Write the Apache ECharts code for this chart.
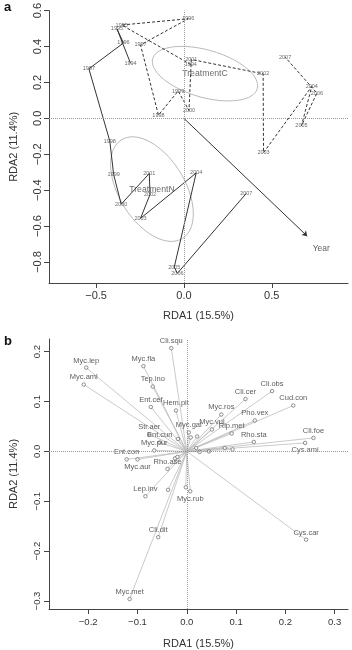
<!DOCTYPE html>
<html>
<head>
<meta charset="utf-8">
<script src="https://cdn.jsdelivr.net/npm/echarts@6/dist/echarts.min.js"></script>
<style>html,body{margin:0;padding:0;background:#fff}#main{width:352px;height:650px}</style>
</head>
<body>
<div id="main"></div>
<script>
// panel a: site scores per year, two treatments
var years = [1994, 1995, 1996, 1997, 1998, 1999, 2000, 2001, 2002, 2003, 2004, 2005, 2006, 2007];
var nX = [-0.304, -0.381, -0.344, -0.541, -0.422, -0.400, -0.357, -0.197, -0.193, -0.247, 0.070, -0.055, -0.037, 0.355];
var nY = [0.307, 0.498, 0.420, 0.276, -0.126, -0.313, -0.478, -0.307, -0.424, -0.557, -0.304, -0.828, -0.863, -0.418];
var cX = [0.039, -0.354, 0.025, -0.247, -0.145, -0.033, 0.029, 0.042, 0.451, 0.453, 0.728, 0.669, 0.757, 0.576];
var cY = [0.300, 0.520, 0.555, 0.409, 0.018, 0.152, 0.044, 0.328, 0.248, -0.191, 0.178, -0.041, 0.141, 0.341];
var groups = ['TreatmentC', 'TreatmentN'];
var groupX = [0.120, -0.182];
var groupY = [0.249, -0.394];
var ellA = [0.309, 0.325];
var ellB = [0.132, 0.186];
var ellRot = [-15.6, -57.2];
var yearArrow = [0.702, -0.656];

// panel b: species scores
var species = ['Cli.squ', 'Myc.lep', 'Myc.fla', 'Myc.aml', 'Tep.ino', 'Ent.cef', 'Hem.pit', 'Cli.cer', 'Cli.obs', 'Cud.con',
  'Myc.ros', 'Pho.vex', 'Myc.vul', 'Rip.met', 'Myc.gal', 'Rho.sta', 'Cli.foe', 'Cys.ami', 'Str.aer', 'Ent.cun',
  'Myc.pur', 'Ent.con', 'Myc.aur', 'Rho.ase', 'Lep.inv', 'Myc.rub', 'Cli.dit', 'Myc.met', 'Cys.car',
  '', '', '', '', '', '', '', '', '', '', '', ''];
var spX = [-0.0315, -0.204, -0.088, -0.209, -0.069, -0.073, -0.022, 0.119, 0.173, 0.216,
  0.070, 0.138, 0.051, 0.091, 0.004, 0.136, 0.257, 0.240, -0.076, -0.055,
  -0.066, -0.122, -0.100, -0.039, -0.084, 0.007, -0.058, -0.116, 0.242,
  -0.018, 0.008, 0.021, 0.019, 0.026, 0.045, 0.077, 0.093, -0.024, -0.019, -0.038, -0.002];
var spY = [0.207, 0.168, 0.171, 0.134, 0.130, 0.089, 0.082, 0.105, 0.121, 0.092,
  0.074, 0.062, 0.044, 0.036, 0.038, 0.019, 0.027, 0.017, 0.034, 0.018,
  0.002, -0.016, -0.016, -0.035, -0.090, -0.080, -0.172, -0.296, -0.177,
  0.025, 0.028, 0.030, 0.007, -0.001, 0.000, 0.007, 0.004, -0.014, -0.011, -0.077, -0.072];
var belowLabel = ['Myc.aur', 'Cys.ami', 'Myc.rub'];

var ticksAX = [-0.5, 0, 0.5];
var ticksAY = [-0.8, -0.6, -0.4, -0.2, 0, 0.2, 0.4, 0.6];
var ticksBX = [-0.2, -0.1, 0, 0.1, 0.2, 0.3];
var ticksBY = [-0.3, -0.2, -0.1, 0, 0.1, 0.2];

var FONT = 'Liberation Sans';
var AXC = '#444';

function fmt(v) {
  return (v < 0 ? '\u2212' : '') + Math.abs(v).toFixed(1);
}

function axis(dim, grid, min, max, ticks, name, fs, gap, margin) {
  return {
    type: 'value', gridIndex: grid, min: min, max: max,
    name: name, nameLocation: 'middle', nameGap: gap,
    nameRotate: dim == 'y' ? 90 : 0,
    nameTextStyle: { fontFamily: FONT, fontSize: 11, color: '#333' },
    axisLine: { show: true, onZero: false, lineStyle: { color: AXC, width: 1 } },
    axisTick: { show: true, length: 5, customValues: ticks, lineStyle: { color: AXC } },
    axisLabel: { customValues: ticks, formatter: fmt, rotate: dim == 'y' ? 90 : 0, margin: margin,
      fontFamily: FONT, fontSize: fs, color: '#333' },
    splitLine: { show: false }
  };
}

function pts(xs, ys) {
  return xs.map(function (x, i) { return [x, ys[i], years[i]]; });
}

function renderEllipse(params, api) {
  var cx = api.value(0), cy = api.value(1), a = api.value(2), b = api.value(3);
  var r = api.value(4) * Math.PI / 180;
  var p = [];
  for (var i = 0; i < 90; i++) {
    var t = i / 90 * 2 * Math.PI;
    p.push(api.coord([
      cx + a * Math.cos(t) * Math.cos(r) - b * Math.sin(t) * Math.sin(r),
      cy + a * Math.cos(t) * Math.sin(r) + b * Math.sin(t) * Math.cos(r)
    ]));
  }
  return { type: 'polygon', shape: { points: p }, style: { fill: 'none', stroke: '#b8b8b8', lineWidth: 1 } };
}

var zeroLines = {
  silent: true, symbol: 'none', label: { show: false },
  lineStyle: { type: 'dotted', color: '#999', width: 1 },
  data: [{ xAxis: 0 }, { yAxis: 0 }]
};

var yearLabel = {
  show: true, position: 'inside', formatter: function (p) { return p.value[2]; },
  fontFamily: FONT, fontSize: 5.5, color: '#444'
};

var myChart = echarts.init(document.getElementById('main'));
option = {
  animation: false,
  grid: [
    { left: 40, top: 10, width: 308, height: 273 },
    { left: 40, top: 339, width: 308, height: 275 }
  ],
  xAxis: [
    axis('x', 0, -0.768, 0.934, ticksAX, 'RDA1 (15.5%)', 11, 27, 7),
    axis('x', 1, -0.2795, 0.327, ticksBX, 'RDA1 (15.5%)', 9.5, 29, 8)
  ],
  yAxis: [
    axis('y', 0, -0.917, 0.6, ticksAY, 'RDA2 (11.4%)', 11, 30, 6),
    axis('y', 1, -0.316, 0.2254, ticksBY, 'RDA2 (11.4%)', 9.5, 30, 7)
  ],
  graphic: [
    { type: 'text', left: 4, top: 1, style: { text: 'a', font: 'bold 13px ' + FONT, fill: '#111' } },
    { type: 'text', left: 4, top: 335, style: { text: 'b', font: 'bold 13px ' + FONT, fill: '#111' } }
  ],
  series: [
    {
      type: 'custom', xAxisIndex: 0, yAxisIndex: 0, renderItem: renderEllipse, silent: true,
      encode: { x: 0, y: 1 },
      data: groups.map(function (g, i) { return [groupX[i], groupY[i], ellA[i], ellB[i], ellRot[i]]; }),
      markLine: zeroLines, z: 1
    },
    {
      type: 'scatter', xAxisIndex: 0, yAxisIndex: 0, symbolSize: 1, itemStyle: { color: 'rgba(0,0,0,0)' },
      data: groups.map(function (g, i) { return { name: g, value: [groupX[i], groupY[i]] }; }),
      label: { show: true, position: 'inside', formatter: '{b}', fontFamily: FONT, fontSize: 8.7, color: '#444' },
      z: 3
    },
    {
      type: 'line', xAxisIndex: 0, yAxisIndex: 0, data: pts(nX, nY), showSymbol: false,
      lineStyle: { color: '#333', width: 1 }, z: 2
    },
    {
      type: 'line', xAxisIndex: 0, yAxisIndex: 0, data: pts(cX, cY), showSymbol: false,
      lineStyle: { color: '#333', width: 1, type: [3, 2] }, z: 2
    },
    {
      type: 'scatter', xAxisIndex: 0, yAxisIndex: 0, symbolSize: 1, itemStyle: { color: 'rgba(0,0,0,0)' },
      data: pts(nX, nY).concat(pts(cX, cY)), label: yearLabel, z: 4
    },
    {
      type: 'lines', coordinateSystem: 'cartesian2d', xAxisIndex: 0, yAxisIndex: 0,
      symbol: ['none', 'arrow'], symbolSize: 5,
      lineStyle: { color: '#333', width: 1, opacity: 1 },
      data: [{ coords: [[0, 0], yearArrow] }], z: 2
    },
    {
      type: 'scatter', xAxisIndex: 0, yAxisIndex: 0, symbolSize: 1, itemStyle: { color: 'rgba(0,0,0,0)' },
      data: [{ name: 'Year', value: yearArrow }],
      label: { show: true, position: 'inside', offset: [14, 13], formatter: '{b}', fontFamily: FONT, fontSize: 8.4, color: '#333' }
    },
    // panel b
    {
      type: 'lines', coordinateSystem: 'cartesian2d', xAxisIndex: 1, yAxisIndex: 1,
      lineStyle: { color: '#bdbdbd', width: 0.8, opacity: 1 },
      data: spX.map(function (x, i) { return { coords: [[0, 0], [x, spY[i]]] }; }),
      markLine: zeroLines, z: 1
    },
    {
      type: 'scatter', xAxisIndex: 1, yAxisIndex: 1, symbol: 'circle', symbolSize: 3.5,
      itemStyle: { color: '#fff', borderColor: '#555', borderWidth: 0.8 },
      data: species.map(function (s, i) {
        return { name: s, value: [spX[i], spY[i]],
          label: { position: belowLabel.indexOf(s) >= 0 ? 'bottom' : 'top' } };
      }),
      label: { show: true, formatter: '{b}', distance: 1, fontFamily: FONT, fontSize: 7.5, color: '#333' },
      z: 3
    }
  ]
};
myChart.setOption(option);
</script>
</body>
</html>
